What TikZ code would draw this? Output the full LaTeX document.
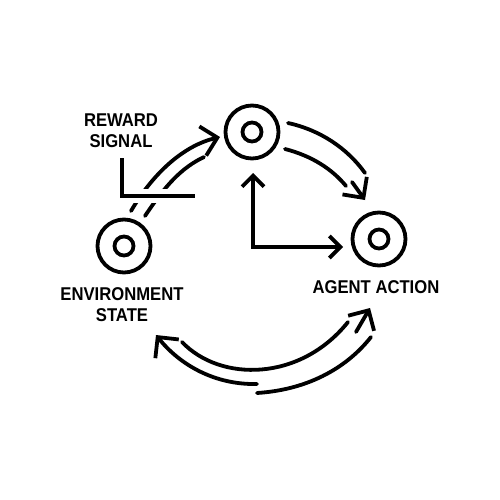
\documentclass[tikz,border=0pt]{standalone}
\usepackage{fontspec}
\setmainfont{Liberation Sans}[FakeStretch=0.9]
\usetikzlibrary{arrows.meta}
\tikzset{
  ring/.style={circle,draw,line width=3.8pt,minimum size=53pt,inner sep=0pt},
  dot/.style={circle,draw,line width=3.8pt,minimum size=19pt,inner sep=0pt},
  lbl/.style={font=\bfseries\fontsize{18.5}{21}\selectfont,align=center,inner sep=0pt},
  band/.style={line width=3.8pt,line cap=round},
  tip/.style={-{Straight Barb[length=15pt,width=30pt]}},
  smalltip/.style={{Straight Barb[length=11pt,width=22pt]}-{Straight Barb[length=11pt,width=22pt]}}
}
\begin{document}
\begin{tikzpicture}[x=1pt,y=-1pt]
\useasboundingbox[fill=white] (0,0) rectangle (500,500);
\node[ring] (top) at (252,132) {};
\node[dot] (topin) at (top) {};
\node[ring] (agent) at (379,239) {};
\node[dot] (agentin) at (agent) {};
\node[ring] (env) at (124,246) {};
\node[dot] (envin) at (env) {};
\node[lbl] (reward) at (121,131) {REWARD\\SIGNAL};
\node[lbl] (envlbl) at (122,305) {ENVIRONMENT\\STATE};
\node[lbl] (agentlbl) at (376,287) {AGENT ACTION};
\coordinate (tlo) at (131,211);
\coordinate (tlotip) at (220,137);
\coordinate (tli) at (145,216);
\coordinate (tliend) at (204,157);
\coordinate (tro) at (288,123);
\coordinate (troend) at (365,173);
\coordinate (tri) at (285,149);
\coordinate (triend) at (346,186);
\coordinate (trshaft) at (352,182);
\coordinate (trtip) at (365,200);
\coordinate (lup) at (253,173);
\coordinate (lcorner) at (253,247);
\coordinate (lright) at (343,247);
\coordinate (bmid) at (182,342);
\coordinate (bmidend) at (348,322);
\coordinate (bleft) at (257,384);
\coordinate (blefttip) at (156,335);
\coordinate (bright) at (257,393);
\coordinate (brightend) at (371,337);
\coordinate (brshaft) at (356,332);
\coordinate (brtip) at (370,308);
\coordinate (sigtop) at (122,158);
\coordinate (sigend) at (195,196);
\draw[band,tip] (tlo) .. controls (155,170) and (186,145) .. (tlotip);
\draw[band] (tli) .. controls (165,186) and (181,168) .. (tliend);
\draw[white,line width=14pt] (sigtop |- sigend) -- (sigend);
\draw[band,line cap=butt] (sigtop) |- (sigend);
\draw[band] (tro) .. controls (320,130) and (347,148) .. (troend);
\draw[band] (tri) .. controls (312,156) and (332,169) .. (triend);
\draw[band,tip] (trshaft) -- (trtip);
\draw[band,smalltip] (lup) |- (lright);
\draw[band] (bmid) .. controls (220,382) and (300,382) .. (bmidend);
\draw[band,tip] (bleft) .. controls (215,385) and (180,365) .. (blefttip);
\draw[band] (bright) .. controls (305,390) and (345,370) .. (brightend);
\draw[band,tip] (brshaft) -- (brtip);
\end{tikzpicture}
\end{document}
